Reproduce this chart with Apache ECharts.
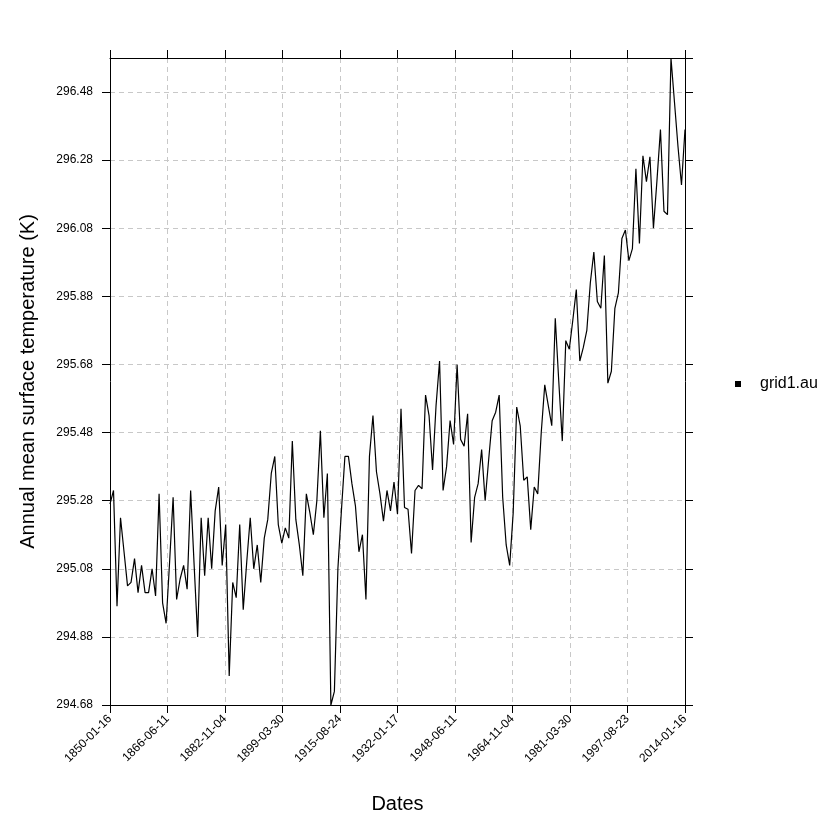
<!DOCTYPE html>
<html><head><meta charset="utf-8">
<script src="https://cdn.jsdelivr.net/npm/echarts@6/dist/echarts.min.js"></script>
<style>html,body{margin:0;padding:0;background:#fff}#c{width:840px;height:840px}</style>
</head><body><div id="c"></div>
<script>
const seriesName = 'grid1.au';
// Annual mean surface temperature (K), one value per year 1850..2014
const tempK = [
295.27,295.31,294.97,295.23,295.13,295.03,295.04,295.11,295.01,295.09,
295.01,295.01,295.08,295.00,295.30,294.98,294.92,295.10,295.29,294.99,
295.05,295.09,295.02,295.31,295.09,294.88,295.23,295.06,295.23,295.08,
295.25,295.32,295.09,295.21,294.765,295.04,294.995,295.21,294.96,295.10,
295.23,295.08,295.15,295.04,295.17,295.225,295.36,295.41,295.21,295.155,
295.20,295.17,295.455,295.225,295.15,295.06,295.30,295.245,295.18,295.28,
295.485,295.23,295.36,294.68,294.72,295.08,295.25,295.41,295.41,295.33,
295.265,295.13,295.18,294.99,295.41,295.53,295.365,295.30,295.22,295.31,
295.25,295.335,295.24,295.55,295.26,295.255,295.125,295.31,295.325,295.315,
295.59,295.53,295.37,295.56,295.69,295.31,295.38,295.515,295.445,295.68,
295.46,295.44,295.535,295.157,295.29,295.33,295.43,295.28,295.40,295.515,
295.54,295.59,295.29,295.15,295.09,295.245,295.555,295.50,295.34,295.35,
295.195,295.32,295.30,295.48,295.62,295.56,295.50,295.816,295.63,295.455,
295.75,295.725,295.81,295.90,295.69,295.73,295.78,295.92,296.01,295.865,
295.845,296.00,295.625,295.66,295.845,295.89,296.05,296.075,295.985,296.02,
296.255,296.035,296.293,296.217,296.29,296.08,296.22,296.37,296.13,296.12,
296.58,296.45,296.32,296.207,296.37
];
const xTickLabels = ['1850-01-16','1866-06-11','1882-11-04','1899-03-30','1915-08-24',
  '1932-01-17','1948-06-11','1964-11-04','1981-03-30','1997-08-23','2014-01-16'];
const yMin = 294.68, yMax = 296.58, yStep = 0.2;
const xMax = 164, xStep = 16.4;

const font = '"Liberation Sans", Arial, sans-serif';
const chart = echarts.init(document.getElementById('c'), null, {renderer: 'canvas'});
const pts = tempK.map((v, i) => [i, v]);
const axLine = {show: true, onZero: false, lineStyle: {color: '#000', width: 1}};
const axTick = {show: true, inside: false, length: 8, lineStyle: {color: '#000', width: 1}};
const grid = {show: true, lineStyle: {color: '#c8c8c8', width: 1, type: [5, 4]}};

chart.setOption({
  animation: false,
  backgroundColor: '#fff',
  textStyle: {fontFamily: font},
  grid: {left: 110, right: 155, top: 58, bottom: 135, containLabel: false},
  legend: {
    data: [{name: seriesName, icon: 'rect'}],
    left: 730, top: 371, itemWidth: 6, itemHeight: 6,
    textStyle: {fontSize: 16, color: '#000', fontFamily: font, padding: [0, 0, 0, 14]}
  },
  xAxis: [
    {type: 'value', min: 0, max: xMax, interval: xStep, position: 'bottom',
     axisLine: axLine, axisTick: axTick, splitLine: grid,
     axisLabel: {rotate: 45, fontSize: 12, color: '#000', margin: 12, fontFamily: font,
       formatter: v => xTickLabels[Math.round(v / xStep)]},
     name: 'Dates', nameLocation: 'middle', nameGap: 89,
     nameTextStyle: {fontSize: 20, color: '#000', fontFamily: font}},
    {type: 'value', min: 0, max: xMax, interval: xStep, position: 'top',
     axisLine: axLine, axisTick: axTick, splitLine: {show: false}, axisLabel: {show: false}}
  ],
  yAxis: [
    {type: 'value', min: yMin, max: yMax, interval: yStep, position: 'left',
     axisLine: axLine, axisTick: axTick, splitLine: grid,
     axisLabel: {fontSize: 12, color: '#000', margin: 17, fontFamily: font, showMaxLabel: false,
       formatter: v => v.toFixed(2)},
     name: 'Annual mean surface temperature (K)', nameLocation: 'middle', nameGap: 72,
     nameTextStyle: {fontSize: 20, color: '#000', fontFamily: font}},
    {type: 'value', min: yMin, max: yMax, interval: yStep, position: 'right',
     axisLine: axLine, axisTick: axTick, splitLine: {show: false},
     axisLabel: {show: false}}
  ],
  series: [{
    name: seriesName, type: 'line', data: pts, xAxisIndex: 0, yAxisIndex: 0,
    symbol: 'none', showSymbol: false,
    lineStyle: {color: '#000', width: 1.2}, itemStyle: {color: '#000'}
  }]
});
</script></body></html>
